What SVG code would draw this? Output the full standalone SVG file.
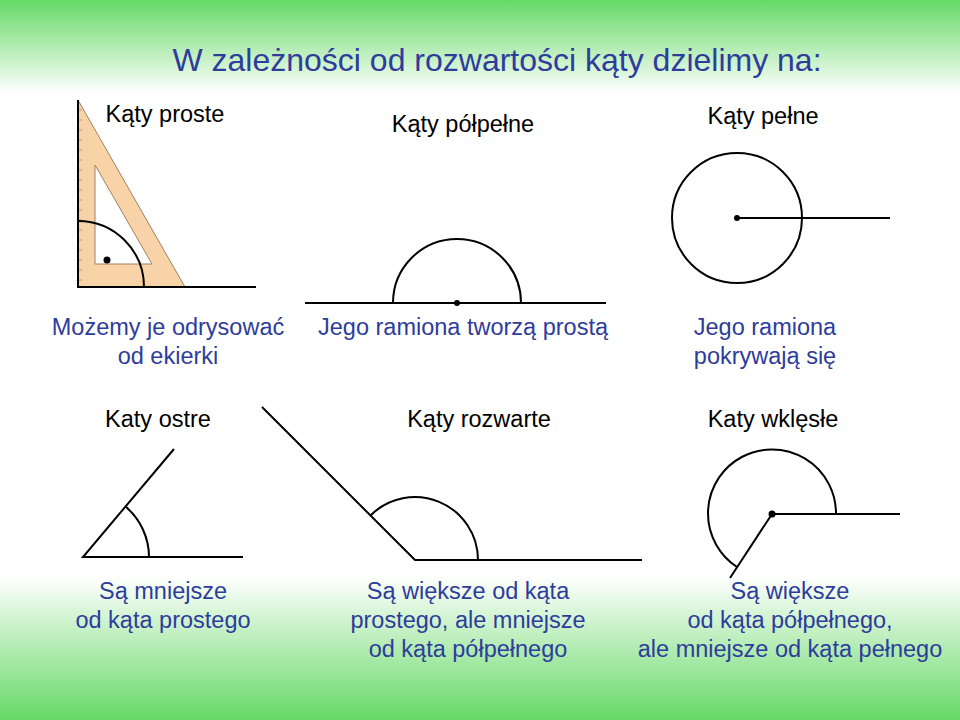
<svg xmlns="http://www.w3.org/2000/svg" width="960" height="720" viewBox="0 0 960 720">
<defs>
<linearGradient id="bg" x1="0" y1="0" x2="0" y2="1">
<stop offset="0" stop-color="#66d966"/>
<stop offset="0.13" stop-color="#ffffff"/>
<stop offset="0.8" stop-color="#ffffff"/>
<stop offset="1" stop-color="#66d966"/>
</linearGradient>
<style>
.t{font-family:"Liberation Sans",Arial,sans-serif;font-size:23.5px;fill:#000;text-anchor:middle}
.b{font-family:"Liberation Sans",Arial,sans-serif;font-size:23.5px;fill:#2e3c9c;text-anchor:middle}
.l{stroke:#000;stroke-width:2;fill:none}
</style>
</defs>
<rect width="960" height="720" fill="url(#bg)"/>
<text x="497" y="71" style="font-family:'Liberation Sans',Arial,sans-serif;font-size:32px;fill:#2e3c9c;text-anchor:middle">W zależności od rozwartości kąty dzielimy na:</text>

<g id="proste">
<path d="M78,100 L78,287 L185,287 Z M95,165 L152,264 L95,264 Z" fill="#f8d3a8" fill-rule="evenodd" stroke="#a08060" stroke-width="1"/>
<path d="M78,110 h4 M78,120 h4 M78,130 h4 M78,140 h4 M78,150 h4 M78,160 h4 M78,170 h4 M78,180 h4 M78,190 h4 M78,200 h4 M78,210 h4 M78,220 h4 M78,230 h4 M78,240 h4 M78,250 h4 M78,260 h4 M78,270 h4 M78,280 h4" stroke="#a08060" stroke-width="0.7"/>
<path class="l" d="M78,100 V287 H256"/>
<path class="l" d="M78,221 A66,66 0 0 1 144,287"/>
<circle cx="107" cy="260" r="3.5"/>
<text class="t" x="165" y="122">Kąty proste</text>
<text class="b" x="168" y="335">Możemy je odrysować</text>
<text class="b" x="168" y="364">od ekierki</text>
</g>

<g id="polpelne">
<path class="l" d="M305,303 H606"/>
<path class="l" d="M393,303 A64,64 0 0 1 521,303"/>
<circle cx="457" cy="303" r="3"/>
<text class="t" x="463" y="132">Kąty półpełne</text>
<text class="b" x="463" y="335">Jego ramiona tworzą prostą</text>
</g>

<g id="pelne">
<circle class="l" cx="737" cy="218" r="65"/>
<path class="l" d="M737,218 H890"/>
<circle cx="737" cy="218" r="3"/>
<text class="t" x="763" y="124">Kąty pełne</text>
<text class="b" x="765" y="335">Jego ramiona</text>
<text class="b" x="765" y="364">pokrywają się</text>
</g>

<g id="ostre">
<path class="l" d="M174,449 L83,557 H243"/>
<path class="l" d="M125.5,506.6 A66,66 0 0 1 149,557"/>
<text class="t" x="158" y="427">Katy ostre</text>
<text class="b" x="163" y="599">Są mniejsze</text>
<text class="b" x="163" y="628">od kąta prostego</text>
</g>

<g id="rozwarte">
<path class="l" d="M262,407 L415,560 H642"/>
<path class="l" d="M370.5,515.5 A63,63 0 0 1 478,560"/>
<text class="t" x="479" y="427">Kąty rozwarte</text>
<text class="b" x="468" y="599">Są większe od kąta</text>
<text class="b" x="468" y="628">prostego, ale mniejsze</text>
<text class="b" x="468" y="657">od kąta półpełnego</text>
</g>

<g id="wklesle">
<path class="l" d="M900,514 H772 L730,578"/>
<path class="l" d="M836,514 A64,64 0 1 0 737,567"/>
<circle cx="772" cy="514" r="3.5"/>
<text class="t" x="773" y="427">Katy wklęsłe</text>
<text class="b" x="790" y="599">Są większe</text>
<text class="b" x="790" y="628">od kąta półpełnego,</text>
<text class="b" x="790" y="657">ale mniejsze od kąta pełnego</text>
</g>
</svg>
